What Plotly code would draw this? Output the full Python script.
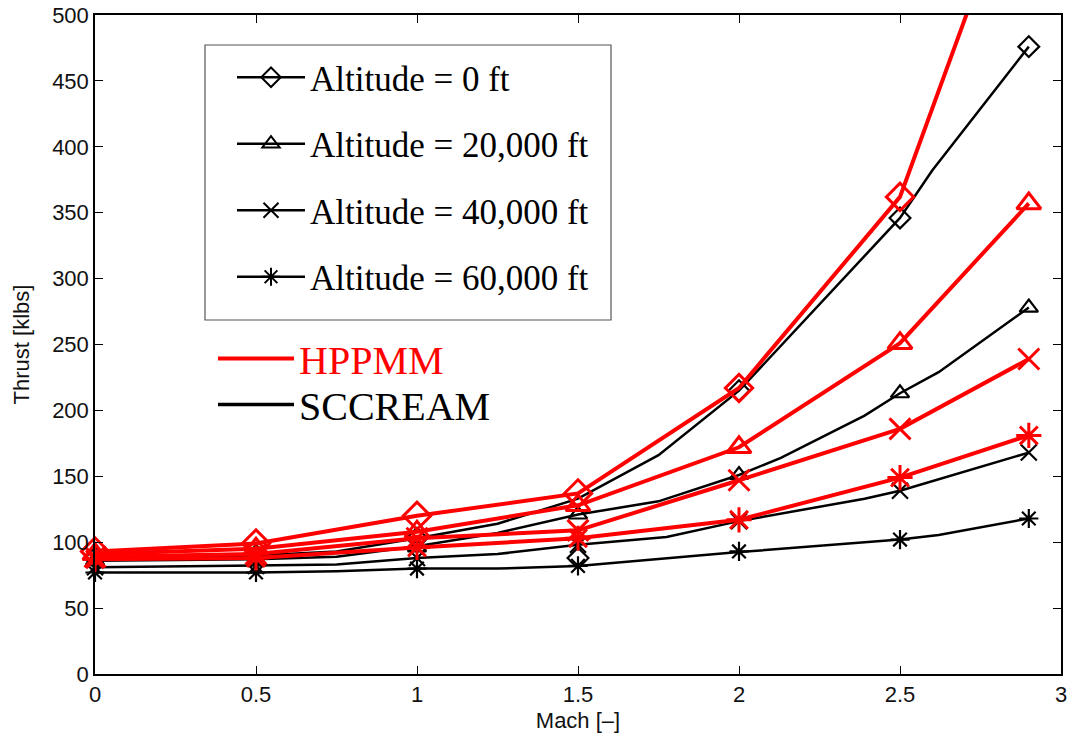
import plotly.graph_objects as go

# ---------------- data ----------------
mach_pts = [0, 0.5, 1, 1.5, 2, 2.5, 2.9]

# HPPMM (red)
hppmm_alt0 = [93, 99, 120, 137, 217, 362, 630]
hppmm_alt20k = [91, 95, 108, 128, 172, 251, 357]
hppmm_alt40k = [89, 91, 103, 109, 147, 186, 239]
hppmm_alt60k = [87, 88, 96, 103, 117, 149, 181]

# SCCREAM (black) markers
sc_mk_alt0 = [88, 90, 103, 88, 215, 346, 476]
sc_mk_alt20k = [86, 87, 96, 121, 151, 213, 278]
sc_mk_alt40k = [81, 82, 88, 98, 116, 139, 168]
sc_mk_alt60k = [77, 77, 80, 82, 93, 102, 118]

# SCCREAM (black) lines, finer sampling
sc_alt0_mach = [0, 0.5, 0.75, 1, 1.25, 1.5, 1.75, 2, 2.5, 2.6, 2.9]
sc_alt0 = [88, 90, 93, 103, 114, 133, 166, 215, 346, 382, 476]
sc_alt20k_mach = [0, 0.5, 0.75, 1, 1.25, 1.5, 1.75, 2, 2.13, 2.39, 2.5, 2.62, 2.9]
sc_alt20k = [86, 87, 89, 97, 107, 121, 131, 151, 164, 196, 213, 229, 278]
sc_alt40k_mach = [0, 0.5, 0.75, 1, 1.25, 1.5, 1.775, 2, 2.39, 2.5, 2.9]
sc_alt40k = [81, 82, 83, 88, 91, 98, 104, 116, 133, 139, 168]
sc_alt60k_mach = [0, 0.5, 0.75, 1, 1.25, 1.5, 2, 2.5, 2.62, 2.9]
sc_alt60k = [77, 77, 78, 80, 80, 82, 92.5, 102, 105.5, 118]

alt_labels = ["Altitude = 0 ft", "Altitude = 20,000 ft",
              "Altitude = 40,000 ft", "Altitude = 60,000 ft"]
symbols = ["diamond-open", "triangle-up-open", "x-thin-open", "asterisk-open"]
model_labels = ["HPPMM", "SCCREAM"]

x_ticks = [0, 0.5, 1, 1.5, 2, 2.5, 3]
x_ticktext = ["0", "0.5", "1", "1.5", "2", "2.5", "3"]
y_ticks = list(range(0, 501, 50))

RED = "#ff0000"
BLACK = "#000000"

# plot-area geometry (pixels) used to place the keys
L, R, T, B = 95, 1061, 15, 674
PW, PH = R - L, B - T


def px(x):
    return (x - L) / PW


def py(y):
    return (B - y) / PH


fig = go.Figure()

sc_lines = [(sc_alt0_mach, sc_alt0), (sc_alt20k_mach, sc_alt20k),
            (sc_alt40k_mach, sc_alt40k), (sc_alt60k_mach, sc_alt60k)]
sc_marks = [sc_mk_alt0, sc_mk_alt20k, sc_mk_alt40k, sc_mk_alt60k]
hp = [hppmm_alt0, hppmm_alt20k, hppmm_alt40k, hppmm_alt60k]

# black lines + markers
for (mx, my), mk, sym in zip(sc_lines, sc_marks, symbols):
    fig.add_trace(go.Scatter(x=mx, y=my, mode="lines",
                             line=dict(color=BLACK, width=2.5),
                             showlegend=False, hoverinfo="skip"))
    fig.add_trace(go.Scatter(x=mach_pts, y=mk, mode="markers",
                             marker=dict(symbol=sym, size=16, color=BLACK,
                                         line=dict(color=BLACK, width=2.2)),
                             cliponaxis=False, showlegend=False))

# red lines + markers
for vals, sym in zip(hp, symbols):
    fig.add_trace(go.Scatter(x=mach_pts, y=vals, mode="lines",
                             line=dict(color=RED, width=4),
                             showlegend=False, hoverinfo="skip"))
    fig.add_trace(go.Scatter(x=mach_pts, y=vals, mode="markers",
                             marker=dict(symbol=sym, size=21, color=RED,
                                         line=dict(color=RED, width=3)),
                             cliponaxis=False, showlegend=False))

# legend 1 entries (altitude keys)
for i, (lab, sym) in enumerate(zip(alt_labels, symbols)):
    fig.add_trace(go.Scatter(x=[None], y=[None], mode="lines+markers", name=lab,
                             line=dict(color=BLACK, width=2.5),
                             marker=dict(symbol=sym, size=15, color=BLACK,
                                         line=dict(color=BLACK, width=2)),
                             legend="legend", legendgroup="g%d" % i))

# model keys
fig.add_trace(go.Scatter(x=[None], y=[None], mode="lines",
                         name="<span style='color:#ff0000'>" + model_labels[0] + "</span>",
                         line=dict(color=RED, width=4), legend="legend2"))
fig.add_trace(go.Scatter(x=[None], y=[None], mode="lines", name=model_labels[1],
                         line=dict(color=BLACK, width=3.5), legend="legend3"))

# legend box (drawn frame)
fig.add_shape(type="rect", xref="paper", yref="paper",
              x0=px(205), x1=px(611), y0=py(320), y1=py(45),
              line=dict(color="#555555", width=1.2), fillcolor="white", layer="below")

tick_font = dict(family="Liberation Sans, Arial, sans-serif", size=22, color="#111111")
title_font = dict(family="Liberation Sans, Arial, sans-serif", size=22, color="#111111")
serif = "Liberation Serif, Times New Roman, serif"

fig.update_layout(
    width=1070, height=742,
    margin=dict(l=L, r=1070 - R, t=T, b=742 - B, autoexpand=False),
    paper_bgcolor="white", plot_bgcolor="white",
    legend=dict(x=px(232), y=py(48), xanchor="left", yanchor="top",
                bgcolor="rgba(0,0,0,0)", borderwidth=0,
                font=dict(family=serif, size=35, color=BLACK),
                itemwidth=68, traceorder="grouped", tracegroupgap=18),
    legend2=dict(x=px(213), y=py(326), xanchor="left", yanchor="top",
                 bgcolor="rgba(0,0,0,0)", borderwidth=0,
                 font=dict(family=serif, size=40, color=BLACK), itemwidth=76),
    legend3=dict(x=px(213), y=py(372), xanchor="left", yanchor="top",
                 bgcolor="rgba(0,0,0,0)", borderwidth=0,
                 font=dict(family=serif, size=40, color=BLACK), itemwidth=76),
    xaxis=dict(range=[0, 3], tickvals=x_ticks, ticktext=x_ticktext, automargin=False,
               showgrid=False, zeroline=False, showline=True, linecolor=BLACK, linewidth=1.5,
               mirror="allticks", ticks="inside", ticklen=8, tickcolor=BLACK, tickwidth=1.2,
               tickfont=tick_font,
               title=dict(text="Mach [\u2013]", font=title_font, standoff=6)),
    yaxis=dict(range=[0, 500], tickvals=y_ticks, automargin=False,
               showgrid=False, zeroline=False, showline=True, linecolor=BLACK, linewidth=1.5,
               mirror="allticks", ticks="inside", ticklen=8, tickcolor=BLACK, tickwidth=1.2,
               tickfont=tick_font,
               title=dict(text="Thrust [klbs]", font=title_font, standoff=16)),
)

fig.write_html("out.html")
